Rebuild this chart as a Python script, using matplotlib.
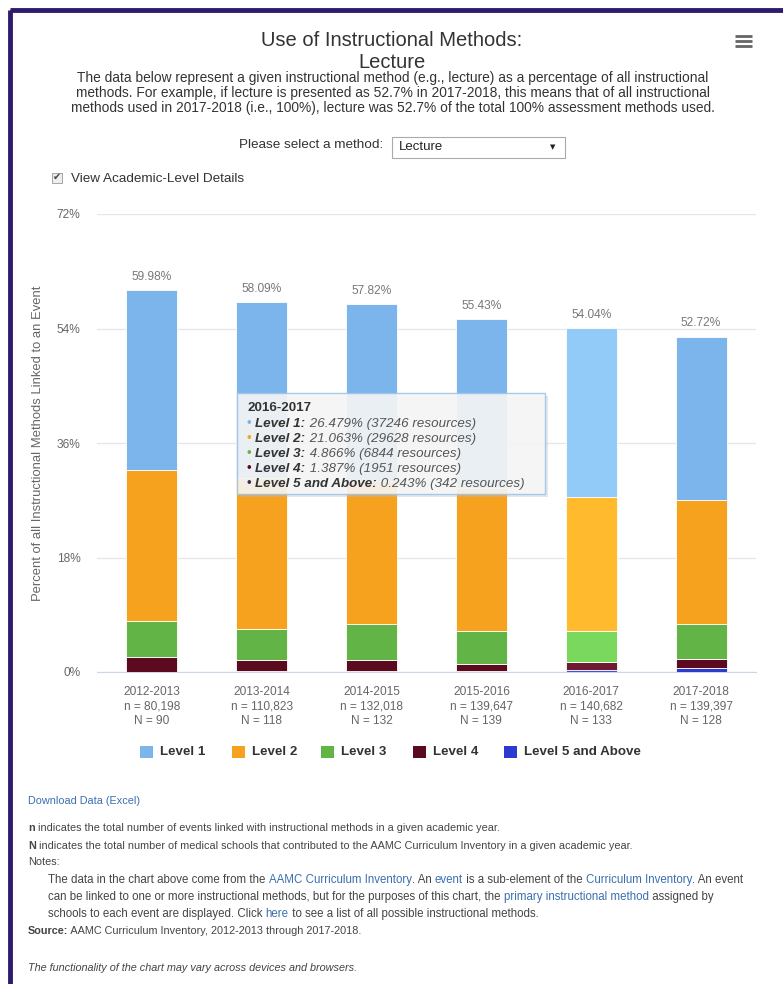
import numpy as np
import matplotlib
matplotlib.use('Agg')
import matplotlib.pyplot as plt
from matplotlib.patches import Rectangle

# =============================================================================
#                                   Data
# =============================================================================

years = ['2012-2013', '2013-2014', '2014-2015', '2015-2016', '2016-2017', '2017-2018']
n_events = ['80,198', '110,823', '132,018', '139,647', '140,682', '139,397']
n_schools = [90, 118, 132, 139, 133, 128]

level_names = ['Level 1', 'Level 2', 'Level 3', 'Level 4', 'Level 5 and Above']
lvl1 = [28.22, 27.59, 27.82, 26.43, 26.479, 25.68]
lvl2 = [23.76, 23.73, 22.50, 22.55, 21.063, 19.49]
lvl3 = [5.60, 4.87, 5.60, 5.25, 4.866, 5.55]
lvl4 = [2.35, 1.80, 1.80, 1.10, 1.387, 1.43]
lvl5 = [0.05, 0.10, 0.10, 0.10, 0.243, 0.57]
totals = ['59.98%', '58.09%', '57.82%', '55.43%', '54.04%', '52.72%']

colors = ['#7cb5ec', '#f7a21f', '#62b446', '#5b0a1f', '#2b3bd0']
hover_colors = ['#92cbf7', '#ffba2e', '#7ad85e', '#6e1a30', '#4050e0']
hover_idx = 4

tip_title = '2016-2017'
tip_vals = ['26.479% (37246 resources)', '21.063% (29628 resources)',
            '4.866% (6844 resources)', '1.387% (1951 resources)',
            '0.243% (342 resources)']

yticks = [0, 18, 36, 54, 72]

W, H = 783, 984
plt.rcParams['font.family'] = ['Liberation Sans', 'DejaVu Sans']

fig = plt.figure(figsize=(W / 100, H / 100), dpi=100)

# =============================================================================
#                                Chart
# =============================================================================

ax = fig.add_axes([97 / W, 1 - 672 / H, (756 - 97) / W, (672 - 214) / H])
x = np.arange(len(years))
series = [lvl1, lvl2, lvl3, lvl4, lvl5]
bottom = np.zeros(len(years))
for k in [4, 3, 2, 1, 0]:
    vals = np.array(series[k])
    cols = [hover_colors[k] if i == hover_idx else colors[k] for i in range(len(years))]
    ax.bar(x, vals, width=0.465, bottom=bottom, color=cols, edgecolor='white',
           linewidth=0.6, zorder=3)
    bottom += vals

for i in range(len(years)):
    ax.text(x[i], bottom[i] + 1.2, totals[i], ha='center', va='bottom',
            fontsize=8.6, color='#777777')

ax.set_xlim(-0.5, len(years) - 0.5)
ax.set_ylim(0, 72)
ax.set_yticks(yticks)
ax.set_yticklabels([f'{v}%' for v in yticks], fontsize=8.6, color='#666666')
ax.set_xticks(x)
ax.set_xticklabels([f'{y}\nn = {n}\nN = {s}' for y, n, s in zip(years, n_events, n_schools)],
                   fontsize=8.6, color='#666666', linespacing=1.3)
ax.tick_params(axis='y', length=0, pad=12)
ax.tick_params(axis='x', length=0, pad=10)
ax.grid(axis='y', color='#e6e6e6', lw=0.9, zorder=0)
for sp in ['top', 'right', 'left']:
    ax.spines[sp].set_visible(False)
ax.spines['bottom'].set_color('#ccd6eb')
ax.set_ylabel('Percent of all Instructional Methods Linked to an Event', fontsize=9.4,
              color='#666666')
ax.yaxis.set_label_coords(-0.08, 0.5)

# overlay in pixel coordinates for all page elements
ov = fig.add_axes([0, 0, 1, 1], zorder=20)
ov.set_xlim(0, W)
ov.set_ylim(H, 0)
ov.set_axis_off()


def chain(x0, y0, parts, size, base='#444444'):
    t = None
    for s, kw in parts:
        opts = dict(fontsize=size, color=base, va='center', ha='left')
        opts.update(kw)
        if t is None:
            t = ov.text(x0, y0, s, **opts)
        else:
            t = ov.annotate(s, xy=(1, 0.5), xycoords=t, annotation_clip=False, **opts)
    return t


# purple frame (left and top edges show)
ov.add_patch(Rectangle((10, 10), W + 40, H + 40, fill=False,
                       edgecolor='#2f1b6e', linewidth=3.5, clip_on=False))

# =============================================================================
#                                Header
# =============================================================================

ov.text(392, 40, 'Use of Instructional Methods:', fontsize=14.5, color='#333333',
        ha='center', va='center')
ov.text(392, 62, 'Lecture', fontsize=14.5, color='#333333', ha='center', va='center')
desc = ['The data below represent a given instructional method (e.g., lecture) as a percentage of all instructional',
        'methods. For example, if lecture is presented as 52.7% in 2017-2018, this means that of all instructional',
        'methods used in 2017-2018 (i.e., 100%), lecture was 52.7% of the total 100% assessment methods used.']
for i, line in enumerate(desc):
    ov.text(393, 78 + 15 * i, line, fontsize=9.9, color='#333333', ha='center', va='center')

# hamburger menu
for yy in [35.5, 40.5, 45.5]:
    ov.plot([735, 752], [yy, yy], color='#666666', lw=2.0, solid_capstyle='butt')

ov.text(383, 145, 'Please select a method:', fontsize=9.7, color='#333333', ha='right', va='center')
ov.add_patch(Rectangle((392, 137), 173, 21, facecolor='white', edgecolor='#aaaaaa', lw=0.8))
ov.text(399, 147, 'Lecture', fontsize=9.5, color='#222222', ha='left', va='center')
ov.text(553, 147, '\u25BC', fontsize=5, color='#222222', ha='center', va='center',
        family='DejaVu Sans')

ov.add_patch(Rectangle((52, 173), 10, 10, facecolor='#eeeeee', edgecolor='#999999', lw=0.6))
ov.text(57, 177, '\u2714', fontsize=7, color='#444444', ha='center', va='center',
        family='DejaVu Sans')
ov.text(71, 179, 'View Academic-Level Details', fontsize=9.7, color='#333333',
        ha='left', va='center')

# tooltip
ov.add_patch(Rectangle((240, 396), 308, 101, facecolor='#bbbbbb', edgecolor='none', alpha=0.35))
ov.add_patch(Rectangle((237, 393), 308, 101, facecolor='#f7f7f7', edgecolor='#9cc4e8',
                       alpha=0.88, lw=1.0))
ov.text(247, 408, tip_title, fontsize=9.6, color='#333333', fontweight='bold', va='center')
for j in range(5):
    chain(247, 424 + 15 * j,
          [('\u2022 ', dict(color=colors[j] if j != 4 else '#3a2a5a')),
           (level_names[j] + ':', dict(fontweight='bold', style='italic', color='#333333')),
           (' ' + tip_vals[j], dict(style='italic', color='#555555'))], 9.6)

# legend
leg_x = [140, 232, 321, 413, 504]
for j in range(5):
    ov.add_patch(Rectangle((leg_x[j], 746), 13, 12, facecolor=colors[j], edgecolor='none'))
    ov.text(leg_x[j] + 20, 752, level_names[j], fontsize=9.6, color='#333333',
            fontweight='bold', va='center')

# =============================================================================
#                                Footer
# =============================================================================

link = '#3a6fb0'
fs = 7.8
ov.text(28, 801, 'Download Data (Excel)', fontsize=fs, color=link, va='center')
chain(28, 828, [('n', dict(fontweight='bold')),
                (' indicates the total number of events linked with instructional methods in a given academic year.', {})],
      fs)
chain(28, 846, [('N', dict(fontweight='bold')),
                (' indicates the total number of medical schools that contributed to the AAMC Curriculum Inventory in a given academic year.', {})],
      fs)
chain(28, 862, [('Notes:', {})], fs)
notes = [
    [('The data in the chart above come from the ', {}), ('AAMC Curriculum Inventory', dict(color=link)),
     ('. An ', {}), ('event', dict(color=link)), (' is a sub-element of the ', {}),
     ('Curriculum Inventory', dict(color=link)), ('. An event', {})],
    [('can be linked to one or more instructional methods, but for the purposes of this chart, the ', {}),
     ('primary instructional method', dict(color=link)), (' assigned by', {})],
    [('schools to each event are displayed. Click ', {}), ('here', dict(color=link)),
     (' to see a list of all possible instructional methods.', {})],
]
for i, parts in enumerate(notes):
    chain(48, 880 + 17 * i, parts, 8.3)
chain(28, 931, [('Source:', dict(fontweight='bold')),
                (' AAMC Curriculum Inventory, 2012-2013 through 2017-2018.', {})], fs)
chain(28, 968, [('The functionality of the chart may vary across devices and browsers.',
                 dict(style='italic'))], fs)

fig.savefig('out.png', dpi=100)
